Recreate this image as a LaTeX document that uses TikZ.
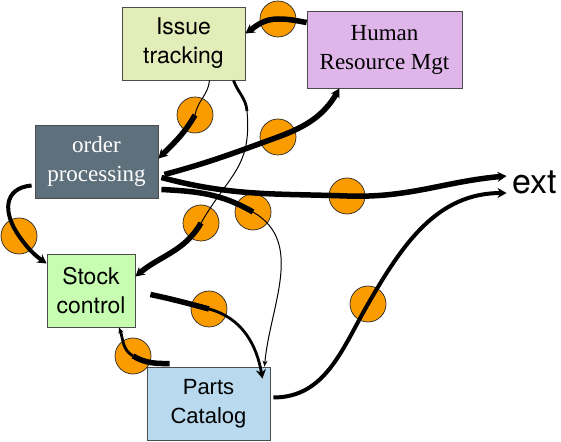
\documentclass[tikz,border=0pt]{standalone}
\usepackage{fontspec}
\setmainfont{Liberation Serif}
\newfontfamily\helv{TeX Gyre Heros}
\newfontfamily\comic{Liberation Sans}
\usetikzlibrary{arrows.meta}

\definecolor{itfill}{RGB}{227,237,185}
\definecolor{hrfill}{RGB}{224,182,234}
\definecolor{opfill}{RGB}{95,112,125}
\definecolor{scfill}{RGB}{198,253,176}
\definecolor{pcfill}{RGB}{185,217,238}
\definecolor{blobfill}{RGB}{250,155,0}

\begin{document}
\begin{tikzpicture}[x=1pt,y=1pt,
    box/.style={draw=black!70, line width=0.8pt, minimum height=73pt, align=center, inner sep=0pt},
    sans/.style={font=\helv\fontsize{23}{29}\selectfont},
    serif/.style={font=\fontsize{23}{29}\selectfont},
    blob/.style={circle, draw=black!85, line width=0.7pt, fill=blobfill, minimum size=36pt, inner sep=0pt},
    fat/.style={line width=5.5pt},
    mid/.style={line width=2.8pt},
    thin/.style={line width=1pt},
    tip/.style={-{Stealth[length=9pt,width=10pt]}},
    smalltip/.style={-{Stealth[length=6pt,width=5pt]}}
]
\useasboundingbox (0,0) rectangle (561,441);

\node[box, sans, fill=itfill, minimum width=123pt] (it) at (183.5,397.5) {Issue\\tracking};
\node[box, serif, fill=hrfill, minimum width=155pt, minimum height=77pt] (hr) at (384.5,391.5) {Human\\Resource Mgt};
\node[box, serif, fill=opfill, text=white, minimum width=123pt] (op) at (96.5,279.5) {order\\processing};
\node[box, sans, fill=scfill, minimum width=88pt] (sc) at (91,150.5) {Stock\\control};
\node[box, fill=pcfill, minimum width=123pt, font=\comic\fontsize{22}{29}\selectfont] (pc) at (208.5,37.5) {Parts\\Catalog};
\node[font=\helv\fontsize{34}{34}\selectfont, inner sep=2pt] (ext) at (535,259) {ext};

\node[blob] (hrit) at (278,422) {};
\node[blob] (itop) at (195,326) {};
\node[blob] (ophr) at (278,304) {};
\node[blob] (opext) at (347,245) {};
\node[blob] (itsc) at (201,218) {};
\node[blob] (oppc) at (253,229) {};
\node[blob] (opsc) at (19,205) {};
\node[blob] (scpc) at (209,132) {};
\node[blob] (pcsc) at (133,85) {};
\node[blob] (pcext) at (368,137) {};
\coordinate (bend) at (247,330);

\draw[fat, tip] ([yshift=27pt]hr.west) to[out=170,in=0] (hrit.center) to[out=180,in=35] ([yshift=10pt]it.east);

\draw[thin] ([xshift=26pt]it.south) to[out=-95,in=80] (itop.center);
\draw[fat, tip] (itop.center) to[out=-120,in=45] ([yshift=3pt]op.east);

\draw[mid] ([xshift=50pt]it.south) to[out=-70,in=95] (bend);
\draw[thin] (bend) to[out=-85,in=60,looseness=1.2] (itsc.center);
\draw[fat, tip] (itsc.center) to[out=-120,in=40] ([yshift=14pt]sc.east);

\draw[fat, tip] ([xshift=6pt,yshift=-13pt]op.east) to[out=15,in=-160] (ophr.center) to[out=20,in=-120] ([xshift=-45pt]hr.south);

\draw[fat, tip] ([xshift=3pt,yshift=-16pt]op.east) to[out=-15,in=178] (opext.center) to[out=-2,in=185] ([xshift=-4pt,yshift=6pt]ext.west);

\draw[fat] ([xshift=3pt,yshift=-28pt]op.east) to[out=-3,in=150] (oppc.center);
\draw[thin, smalltip] (oppc.center) to[out=-30,in=85] ([xshift=56pt]pc.north);

\draw[line width=4pt, tip] ([xshift=-3pt,yshift=-24pt]op.west) to[out=185,in=125,looseness=1.4] (opsc.center) to[out=-55,in=145] ([yshift=27pt]sc.west);

\draw[fat] ([xshift=15pt,yshift=-4pt]sc.east) to[out=-12,in=165] (scpc.center);
\draw[mid, tip] (scpc.center) to[out=-15,in=100] ([xshift=54pt,yshift=-12pt]pc.north);

\draw[fat] ([xshift=23pt,yshift=3pt]pc.north west) to[out=180,in=-30] (pcsc.center);
\draw[mid, smalltip] (pcsc.center) to[out=150,in=-70] ([xshift=28pt]sc.south);

\draw[line width=4pt, tip] ([xshift=3pt,yshift=6pt]pc.east) to[out=0,in=-120] (pcext.center) to[out=60,in=180] ([xshift=-4pt,yshift=-11pt]ext.west);
\end{tikzpicture}
\end{document}
